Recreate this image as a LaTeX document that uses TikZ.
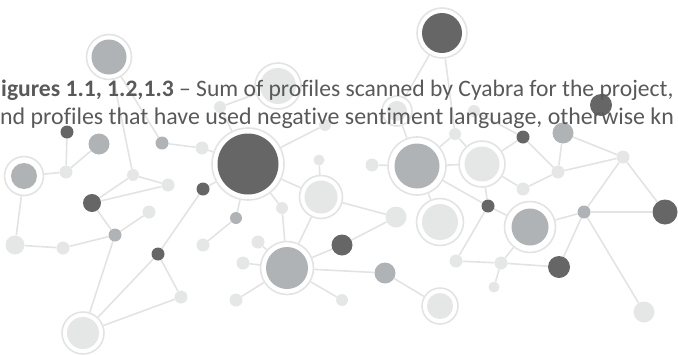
\documentclass[tikz,border=0pt]{standalone}
\usepackage{fontspec}
\setmainfont{Carlito}[Ligatures=NoCommon]
\usetikzlibrary{backgrounds}
\definecolor{dk}{HTML}{666666}
\definecolor{md}{HTML}{AFB3B5}
\definecolor{lt}{HTML}{E5E6E6}
\definecolor{ringc}{HTML}{E3E3E3}
\definecolor{edgec}{HTML}{E3E3E3}
\definecolor{txtc}{HTML}{595959}
\tikzset{
  dotn/.style={circle, inner sep=0pt, draw=none},
  ringn/.style={circle, inner sep=0pt, fill=white, draw=ringc, line width=1.6pt},
  edge/.style={draw=edgec, line width=1.6pt},
  txt/.style={inner sep=0pt, text=txtc, font=\fontsize{23.6}{28}\selectfont, anchor=base west}
}
% #1 name, #2 x, #3 y, #4 colour, #5 radius
\newcommand\dotnode[5]{\node[dotn, fill=#4, minimum size={2*#5pt}] (#1) at (#2,#3) {};}
% #1 name, #2 x, #3 y, #4 colour, #5 inner radius, #6 outer radius
\newcommand\ringnode[6]{\node[ringn, minimum size={2*#6pt}] (#1) at (#2,#3) {};
  \node[dotn, fill=#4, minimum size={2*#5pt}] (#1in) at (#2,#3) {};}
\begin{document}
\begin{tikzpicture}[x=1pt, y=-1pt]
\useasboundingbox (0,0) rectangle (678,354);
\clip (0,0) rectangle (678,354);
% ringed nodes
\ringnode{n1}{109}{57}{md}{17.5}{22.5}
\ringnode{n2}{278}{86}{lt}{18}{23}
\ringnode{n3}{442}{33}{dk}{20}{25}
\ringnode{n9}{248}{164}{dk}{30.5}{36}
\ringnode{n12}{24}{176}{md}{13}{19.5}
\ringnode{n26}{321}{197}{lt}{16.5}{21.5}
\ringnode{n29}{287}{268}{md}{21}{26.5}
\ringnode{n33}{83}{333}{lt}{16}{21}
\ringnode{r1}{397}{111}{lt}{10}{15}
\ringnode{r2}{417}{166}{md}{22.5}{29}
\ringnode{r3}{482}{164}{lt}{17.5}{23}
\ringnode{r4}{440}{222}{lt}{18}{23.5}
\ringnode{r5}{530}{227}{md}{18.5}{25.5}
\ringnode{r6}{440}{306}{lt}{13}{18}
% plain dots
\dotnode{n4}{220}{107}{lt}{6}
\dotnode{n5}{67}{132}{dk}{6.5}
\dotnode{n6}{99}{144}{md}{10.5}
\dotnode{n7}{162}{143}{md}{6.5}
\dotnode{n8}{202}{148}{lt}{6.5}
\dotnode{n10}{325}{125}{lt}{6}
\dotnode{n11}{319}{160}{lt}{5.5}
\dotnode{n13}{66}{172}{lt}{6.5}
\dotnode{n14}{133}{175}{lt}{6}
\dotnode{n15}{168}{185}{lt}{6.5}
\dotnode{n16}{92}{203}{dk}{9}
\dotnode{n17}{149}{212}{lt}{6.5}
\dotnode{n18}{115}{235}{md}{6.5}
\dotnode{n19}{15}{245}{lt}{9.5}
\dotnode{n20}{63}{248}{lt}{6.5}
\dotnode{n21}{203}{189}{dk}{6.5}
\dotnode{n22}{158}{254}{dk}{6.5}
\dotnode{n23}{203}{245}{lt}{6.5}
\dotnode{n24}{236}{218}{md}{6}
\dotnode{n25}{282}{208}{lt}{6}
\dotnode{n27}{258}{242}{lt}{6.5}
\dotnode{n28}{243}{263}{lt}{6.5}
\dotnode{n30}{236}{300}{lt}{6.5}
\dotnode{n31}{342}{245}{dk}{10.5}
\dotnode{n32}{342}{300}{lt}{6}
\dotnode{n34}{181}{297}{lt}{6.5}
\dotnode{n35}{396}{217}{lt}{10.5}
\dotnode{n36}{385}{273}{md}{10.5}
\dotnode{m1}{474}{111}{lt}{6}
\dotnode{m2}{455}{134}{lt}{6}
\dotnode{m3}{372}{165}{lt}{6.5}
\dotnode{m4}{488}{206}{dk}{6.5}
\dotnode{m5}{523}{189}{lt}{6.5}
\dotnode{m6}{558}{172}{lt}{6.5}
\dotnode{m7}{523}{137}{dk}{6.5}
\dotnode{m8}{563}{133}{md}{10.5}
\dotnode{m9}{601}{105}{dk}{11}
\dotnode{m10}{623}{157}{lt}{6.5}
\dotnode{m11}{584}{212}{md}{6.5}
\dotnode{m12}{665}{212}{dk}{12.5}
\dotnode{m13}{559}{267}{dk}{11}
\dotnode{m14}{501}{263}{lt}{6.5}
\dotnode{m15}{456}{261}{lt}{6.5}
\dotnode{m16}{494}{287}{lt}{5.5}
\dotnode{m17}{644}{312}{lt}{10.5}
% connectors
\begin{scope}[on background layer]
\foreach \a/\b in {n1/n14, n1/n7, n5/n13, n6/n13, n12/n13, n12/n19, n19/n20, n20/n18,
  n18/n16, n18/n17, n16/n14, n16/n15, n14/n15, n7/n8, n18/n33, n22/n33, n34/n33,
  n22/n34, n21/n22, n9/n8, n9/n4, n4/n2, n9/n10, n9/n21, n9/n24, n9/n25, n9/n26,
  n24/n23, n11/n26, n26/n35, n26/n29, n25/n29, n27/n29, n28/n29, n30/n29, n32/n29,
  n31/n29, n31/n35, n29/n36, n36/r6,
  n3/r1, n3/m2, r1/r2, m3/r2, m2/r2, m2/r3, r2/r3, r2/r4, r2/m4,
  r3/m4, r3/m7, r3/m5, m1/m7, m7/m6, m8/m6, m8/m10, m6/m10, m5/m6,
  m4/r5, m4/m15, m15/m14, m14/m13, m14/m16, m14/r5,
  r5/m11, m11/m12, m11/m13, m11/m17, m11/m10, m10/m12}
  \draw[edge] (\a) -- (\b);
\end{scope}
% caption text
\node[txt] (t1) at (1,96.5) {\textbf{igures 1.1, 1.2,1.3} – Sum of profiles scanned by Cyabra for the project,};
\node[txt, font=\fontsize{23.9}{28}\selectfont] (t2) at (0,124.5) {nd profiles that have used negative sentiment language, otherwise kn};
\end{tikzpicture}
\end{document}
